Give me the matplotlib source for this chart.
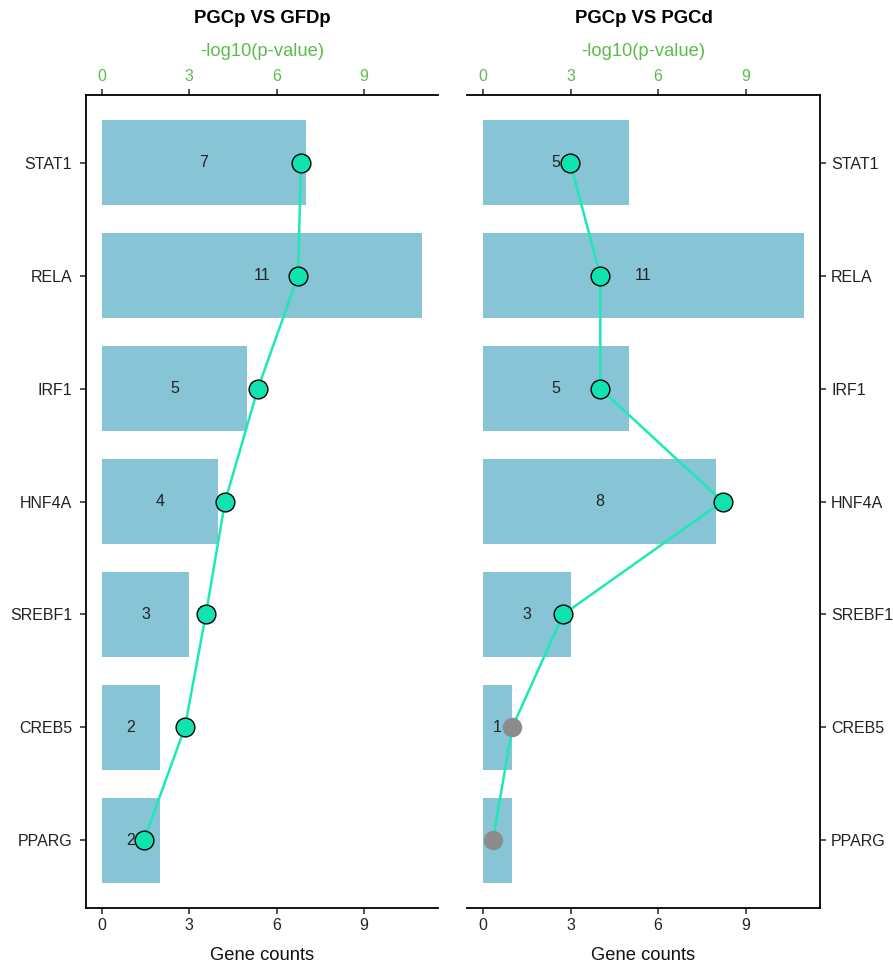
import matplotlib
matplotlib.use("Agg")
import matplotlib.pyplot as plt

plt.rcParams['font.family'] = ['Liberation Sans', 'DejaVu Sans']

genes = ["STAT1", "RELA", "IRF1", "HNF4A", "SREBF1", "CREB5", "PPARG"]

titles = ["PGCp VS GFDp", "PGCp VS PGCd"]

counts_gfd = [7, 11, 5, 4, 3, 2, 2]
logp_gfd = [6.84, 6.74, 5.36, 4.23, 3.57, 2.85, 1.44]
signif_gfd = [True, True, True, True, True, True, True]

counts_pgcd = [5, 11, 5, 8, 3, 1, 1]
logp_pgcd = [2.99, 4.02, 4.02, 8.21, 2.75, 1.0, 0.34]
signif_pgcd = [True, True, True, True, True, False, False]

ticks = [0, 3, 6, 9]

bar_color = "#87C4D6"
line_color = "#1DE9B6"
point_color = "#0FE3B0"
ns_color = "#8C8C8C"
green = "#5DBB4D"
text_color = "#222222"

fig = plt.figure(figsize=(8.93, 9.65), dpi=100)
W, H = 893, 965


def px_axes(x0, x1, y0, y1):
    return fig.add_axes([x0 / W, 1 - y1 / H, (x1 - x0) / W, (y1 - y0) / H])


panels = [
    (px_axes(86, 438, 95, 908), counts_gfd, logp_gfd, signif_gfd, "left"),
    (px_axes(467, 820, 95, 908), counts_pgcd, logp_pgcd, signif_pgcd, "right"),
]

ypos = list(range(len(genes)))[::-1]

for (ax, counts, logp, sig, side), title in zip(panels, titles):
    ax.barh(ypos, counts, height=0.75, color=bar_color, zorder=1)
    for y, c in zip(ypos, counts):
        ax.text(c / 2, y, str(c), ha="center", va="center", fontsize=11.5,
                color=text_color, zorder=2)
    ax.plot(logp, ypos, color=line_color, lw=1.8, zorder=3)
    for y, v, s in zip(ypos, logp, sig):
        if s:
            ax.plot(v, y, "o", ms=13.5, mfc=point_color, mec="black", mew=1.0, zorder=4)
        else:
            ax.plot(v, y, "o", ms=14, mfc=ns_color, mec=ns_color, mew=0, zorder=4)

    ax.set_xlim(-0.55, 11.55)
    ax.set_ylim(-0.6, len(genes) - 1 + 0.6)
    ax.set_yticks(ypos)
    ax.set_yticklabels(genes, fontsize=11.5, color=text_color)
    ax.set_xticks(ticks)
    ax.set_xticklabels([str(t) for t in ticks], fontsize=11.5, color=text_color)
    ax.set_xlabel("Gene counts", fontsize=13.2, color="#111111", labelpad=10)
    ax.tick_params(axis="x", direction="out", length=4, width=1.2, color="#333333", pad=3)
    ax.tick_params(axis="y", direction="out", length=4, width=1.2, color="#333333", pad=6)

    top = ax.secondary_xaxis("top")
    top.set_xticks(ticks)
    top.set_xticklabels([str(t) for t in ticks], fontsize=11.5, color=green)
    top.set_xlabel("-log10(p-value)", fontsize=13.2, color=green, labelpad=9)
    top.tick_params(direction="out", length=4, width=1.2, color="#333333", pad=4)
    for name, sp in top.spines.items():
        if name == "top":
            sp.set_linewidth(1.3)
            sp.set_color("black")
        else:
            sp.set_visible(False)

    for sp in ax.spines.values():
        sp.set_linewidth(1.3)
        sp.set_color("black")
    ax.spines["top"].set_visible(False)
    if side == "left":
        ax.spines["right"].set_visible(False)
    else:
        ax.spines["left"].set_visible(False)
        ax.yaxis.tick_right()
        ax.tick_params(axis="y", left=False, right=True, labelleft=False,
                       labelright=True, pad=4)

    ax.set_title(title, fontsize=13.3, fontweight="bold", pad=52)

fig.savefig("out.png", dpi=100)
